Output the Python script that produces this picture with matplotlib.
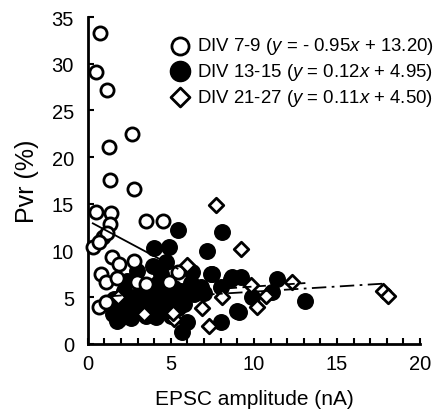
import matplotlib
matplotlib.use('Agg')
import matplotlib.pyplot as plt
import numpy as np

plt.rcParams['font.family'] = ['Liberation Sans', 'DejaVu Sans']
plt.rcParams['mathtext.fontset'] = 'custom'
plt.rcParams['mathtext.rm'] = 'Liberation Sans'
plt.rcParams['mathtext.it'] = 'Liberation Sans:italic'

# DIV 7-9 (open circles)
x_79 = [0.72, 0.48, 1.14, 2.65, 1.27, 1.33, 2.77, 0.48, 1.39, 1.33, 3.5, 4.5,
        0.9, 0.3, 1.14, 0.66, 1.45, 1.9, 2.8, 0.8, 1.1, 1.75, 2.95, 3.5,
        4.9, 5.4, 0.66, 1.1]
y_79 = [33.3, 29.1, 27.2, 22.5, 21.1, 17.5, 16.6, 14.1, 14.0, 12.8, 13.2, 13.2,
        11.5, 10.4, 11.9, 10.9, 9.3, 8.6, 8.9, 7.5, 6.6, 7.1, 6.6, 6.4,
        6.6, 7.7, 4.0, 4.5]

# DIV 13-15 (filled circles)
x_1315 = [5.4, 8.1, 4.0, 4.9, 7.2, 4.7, 3.9, 6.3, 7.5, 8.7, 9.2, 9.1, 8.0,
          5.7, 6.0, 1.9, 1.5, 9.9, 11.4, 11.1, 13.1, 2.95, 2.2, 2.8, 3.4,
          4.0, 4.4, 4.8, 5.6, 5.8, 1.75, 2.8, 3.8, 4.6, 6.4, 6.8, 7.4,
          8.0, 8.6, 9.0, 2.35, 3.0, 3.5, 4.5, 5.0, 2.5, 4.2, 3.2, 5.2,
          6.2, 5.0, 2.0, 2.5, 7.0, 3.6, 1.6, 2.6, 4.1, 5.4, 3.9, 4.7]
y_1315 = [12.2, 12.0, 10.3, 10.4, 9.9, 8.8, 8.4, 7.7, 7.5, 7.2, 7.2, 3.4, 2.4,
          1.3, 2.3, 2.7, 3.2, 5.0, 7.0, 5.6, 4.6, 7.8, 5.7, 5.0, 5.4,
          5.7, 7.5, 5.0, 5.7, 4.3, 2.5, 3.2, 3.5, 4.3, 5.4, 6.1, 7.5,
          6.1, 7.0, 3.5, 6.7, 4.0, 3.0, 3.5, 4.5, 4.2, 6.5, 6.3, 6.0,
          6.5, 3.0, 4.0, 3.5, 5.5, 4.6, 4.8, 2.8, 2.9, 3.8, 4.8, 6.0]

# DIV 21-27 (open diamonds)
x_2127 = [7.7, 9.2, 6.0, 9.8, 8.1, 6.9, 5.2, 7.3, 10.2, 10.7, 12.3, 17.8,
          18.1, 3.4, 1.8, 5.1]
y_2127 = [14.9, 10.2, 8.5, 6.3, 5.0, 3.9, 2.7, 1.9, 4.0, 5.1, 6.6, 5.7,
          5.1, 3.2, 5.0, 3.3]

# regression lines: slope, intercept, x range
fit_79 = (-0.95, 13.20, [0.3, 5.4])
fit_1315 = (0.12, 4.95, [1.5, 13.1])
fit_2127 = (0.11, 4.50, [3.4, 17.8])

fig = plt.figure(figsize=(4.37, 4.14), dpi=100)
ax = fig.add_axes([0.201, 0.1667, 0.76, 0.7898])

ax.scatter(x_1315, y_1315, s=125, c='black', edgecolors='black', linewidths=1,
           zorder=2, clip_on=False, label='DIV 13-15 ($\\it{y}$ = 0.12$\\it{x}$ + 4.95)')
ax.scatter(x_79, y_79, s=90, c='white', edgecolors='black', linewidths=2,
           zorder=3, clip_on=False, label='DIV 7-9 ($\\it{y}$ = - 0.95$\\it{x}$ + 13.20)')
ax.scatter(x_2127, y_2127, s=55, marker='D', c='white', edgecolors='black',
           linewidths=2, zorder=4, clip_on=False,
           label='DIV 21-27 ($\\it{y}$ = 0.11$\\it{x}$ + 4.50)')

for (m, b, xr), ls in [(fit_79, '-'), (fit_1315, (0, (5, 3))),
                       (fit_2127, (0, (8, 3, 1.5, 3)))]:
    xs = np.array(xr)
    ax.plot(xs, m * xs + b, color='black', lw=1.3, ls=ls, zorder=5)

ax.set_xlim(0, 20)
ax.set_ylim(0, 35)
ax.set_xticks([0, 5, 10, 15, 20])
ax.set_xticks(range(0, 21), minor=True)
ax.set_yticks(range(0, 36, 5))
ax.spines['top'].set_visible(False)
ax.spines['right'].set_visible(False)
ax.spines['left'].set_linewidth(2)
ax.spines['bottom'].set_linewidth(2)
ax.tick_params(which='both', direction='in', length=4, width=1.5,
               labelsize=14.5, colors='black')
ax.tick_params(axis='y', pad=10)
ax.tick_params(axis='x', pad=7)
ax.set_xlabel('EPSC amplitude (nA)', fontsize=15, labelpad=12)
ax.set_ylabel('Pvr (%)', fontsize=18, labelpad=9)

h, l = ax.get_legend_handles_labels()
order = [1, 0, 2]
fig.legend([h[i] for i in order], [l[i] for i in order], loc='upper left',
           bbox_to_anchor=(0.37, 0.93), frameon=False, fontsize=13.4,
           handletextpad=0.3, labelspacing=0.25, borderaxespad=0,
           handlelength=1.2, markerscale=1.3)

fig.savefig('out.png', dpi=100)
